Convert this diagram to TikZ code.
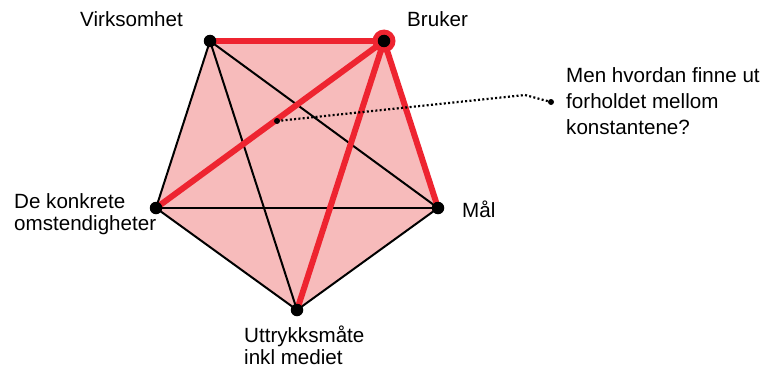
\documentclass[tikz,border=0pt]{standalone}
\usepackage{fontspec}
\setmainfont{Liberation Sans}
\definecolor{pinkfill}{HTML}{F7BBBB}
\definecolor{redline}{HTML}{EE2430}
\begin{document}
\begin{tikzpicture}[x=1pt,y=-1pt,
  dot/.style={circle,fill=black,inner sep=0pt,minimum size=12.5pt},
  smalldot/.style={circle,fill=black,inner sep=0pt,minimum size=6pt},
  blk/.style={line width=2pt,black},
  redl/.style={line width=6pt,redline},
  lbl/.style={anchor=base west,inner sep=0pt,font=\fontsize{20.6}{22.5}\selectfont}]
\path[use as bounding box,fill=white] (0,0) rectangle (767,369);
% vertices
\coordinate (V) at (210,41);
\coordinate (B) at (384,41);
\coordinate (M) at (438,208);
\coordinate (U) at (297,310);
\coordinate (D) at (156,208);
\fill[pinkfill] (V) -- (B) -- (M) -- (U) -- (D) -- cycle;
% black lines
\draw[blk] (M) -- (U) -- (D) -- (V);
\draw[blk] (V) -- (M);
\draw[blk] (V) -- (U);
\draw[blk] (D) -- (M);
% red lines
\draw[redl] (V) -- (B);
\draw[redl] (B) -- (M);
\draw[redl] (B) -- (D);
\draw[redl] (B) -- (U);
% bruker ring
\node[circle,fill=redline,inner sep=0pt,minimum size=23pt] (Bring) at (B) {};
% dots
\node[dot] (Vd) at (V) {};
\node[dot] (Bd) at (B) {};
\node[dot] (Md) at (M) {};
\node[dot] (Ud) at (U) {};
\node[dot] (Dd) at (D) {};
% dotted callout
\node[smalldot] (q1) at (277,121) {};
\node[smalldot] (q2) at (551,102) {};
\coordinate (qk) at (525,95);
\draw[line width=2.2pt,dash pattern=on 2pt off 2.3pt] (q1.center) -- (qk) -- (q2.center);
% labels
\node[lbl] (tV) at (80,27) {Virksomhet};
\node[lbl] (tB) at (407,27) {Bruker};
\node[lbl] (tM) at (462,217) {Mål};
\node[lbl] (tD1) at (14,208) {De konkrete};
\node[lbl] (tD2) at (14,230.5) {omstendigheter};
\node[lbl] (tU1) at (244,342) {Uttrykksmåte};
\node[lbl] (tU2) at (244,364) {inkl mediet};
\node[lbl] (tQ1) at (566,82.5) {Men hvordan finne ut};
\node[lbl] (tQ2) at (566,108.5) {forholdet mellom};
\node[lbl] (tQ3) at (566,134.5) {konstantene?};
\end{tikzpicture}
\end{document}
